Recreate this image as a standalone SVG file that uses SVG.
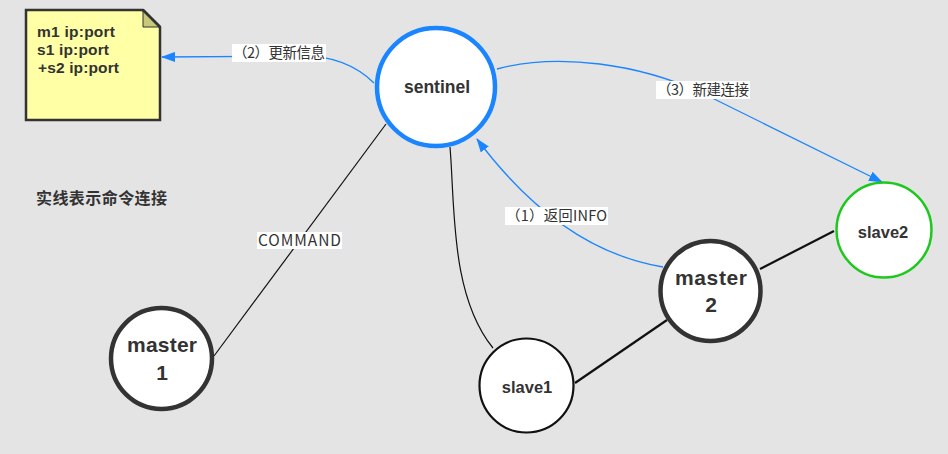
<svg xmlns="http://www.w3.org/2000/svg" width="948" height="454" viewBox="0 0 948 454">
<style>
.bg{fill:#e4e4e4}
.node{fill:#ffffff}
.nt{font-family:"Liberation Sans",Arial,sans-serif;font-weight:bold;fill:#333333;text-anchor:middle}
.lbl{font-family:"Noto Sans CJK SC","Liberation Sans",sans-serif;font-size:14.5px;fill:#333333}
.lblbg{fill:#ffffff}
.blue{fill:none;stroke:#1a85ff;stroke-width:1.3}
.blk{fill:none;stroke:#111111}
</style>
<defs>
<marker id="arr" viewBox="0 0 14 10" refX="13" refY="5" markerWidth="14" markerHeight="10" markerUnits="userSpaceOnUse" orient="auto">
<path d="M0,0 L14,5 L0,10 Z" fill="#1a85ff"/>
</marker>
</defs>
<rect class="bg" x="0" y="0" width="948" height="454"/>

<g id="connectors">
<path class="blk" stroke-width="1.2" d="M386,124 L214,356"/>
<path class="blk" stroke-width="1.2" d="M450,147 C455,205 450,295 493,348"/>
<path class="blk" stroke-width="2.2" d="M575,383 L667,320"/>
<path class="blk" stroke="#333333" stroke-width="2.2" d="M760,269 L834,231"/>
<path class="blue" d="M374,83 Q345,55 300,56 L162,57" marker-end="url(#arr)"/>
<path class="blue" d="M497,69 C560,52 640,65 700,92 L882,182" marker-end="url(#arr)"/>
<path class="blue" d="M663,267 Q560,250 477,139" marker-end="url(#arr)"/>
<rect class="lblbg" x="232" y="44" width="94" height="18"/>
<text class="lbl" x="233" y="58" textLength="92">（2）更新信息</text>
<rect class="lblbg" x="656" y="81" width="94" height="18"/>
<text class="lbl" x="657" y="95" textLength="92">（3）新建连接</text>
<rect class="lblbg" x="505" y="207" width="103" height="18"/>
<text class="lbl" x="506" y="221" textLength="101">（1）返回INFO</text>
<rect class="lblbg" x="257" y="232" width="85" height="17"/>
<text class="lbl" x="258" y="246" style="font-size:15.5px" textLength="83">COMMAND</text>
</g>

<g id="note">
<path d="M26,10 L143,10 L160,27 L160,120 L26,120 Z" fill="#ffffa5" stroke="#333333" stroke-width="2.5"/>
<path d="M143,10 L143,27 L160,27 Z" fill="#c9c97a" stroke="#333333" stroke-width="1"/>
<path d="M143,10 L160,27" stroke="#333333" stroke-width="2.5"/>
<text class="nt" style="text-anchor:start;font-size:15.5px" x="37" y="37" textLength="78">m1 ip:port</text>
<text class="nt" style="text-anchor:start;font-size:15.5px" x="37" y="55" textLength="72">s1 ip:port</text>
<text class="nt" style="text-anchor:start;font-size:15.5px" x="38" y="73" textLength="81">+s2 ip:port</text>
</g>

<g id="legend">
<text x="36" y="204" font-family="'Noto Sans CJK SC','Liberation Sans',sans-serif" font-weight="bold" font-size="16" fill="#333333" textLength="131">实线表示命令连接</text>
</g>

<g id="sentinel">
<circle class="node" cx="436" cy="87" r="59" stroke="#1a85ff" stroke-width="4.5"/>
<text class="nt" x="437" y="93" font-size="17.5">sentinel</text>
</g>

<g id="master1">
<circle class="node" cx="161.5" cy="358.5" r="50.5" stroke="#333333" stroke-width="4.5"/>
<text class="nt" x="162" y="352" font-size="21" textLength="70">master</text>
<text class="nt" x="162" y="380" font-size="21">1</text>
</g>

<g id="master2">
<circle class="node" cx="710.5" cy="291" r="50" stroke="#333333" stroke-width="4.5"/>
<text class="nt" x="711" y="285" font-size="21" textLength="72">master</text>
<text class="nt" x="711" y="312" font-size="21">2</text>
</g>

<g id="slave1">
<circle class="node" cx="526.5" cy="385.5" r="47" stroke="#111111" stroke-width="2.2"/>
<text class="nt" x="527" y="393" font-size="16.5">slave1</text>
</g>

<g id="slave2">
<circle class="node" cx="884" cy="230" r="47.5" stroke="#1ec81e" stroke-width="2.5"/>
<text class="nt" x="883" y="238" font-size="16.5">slave2</text>
</g>
</svg>
